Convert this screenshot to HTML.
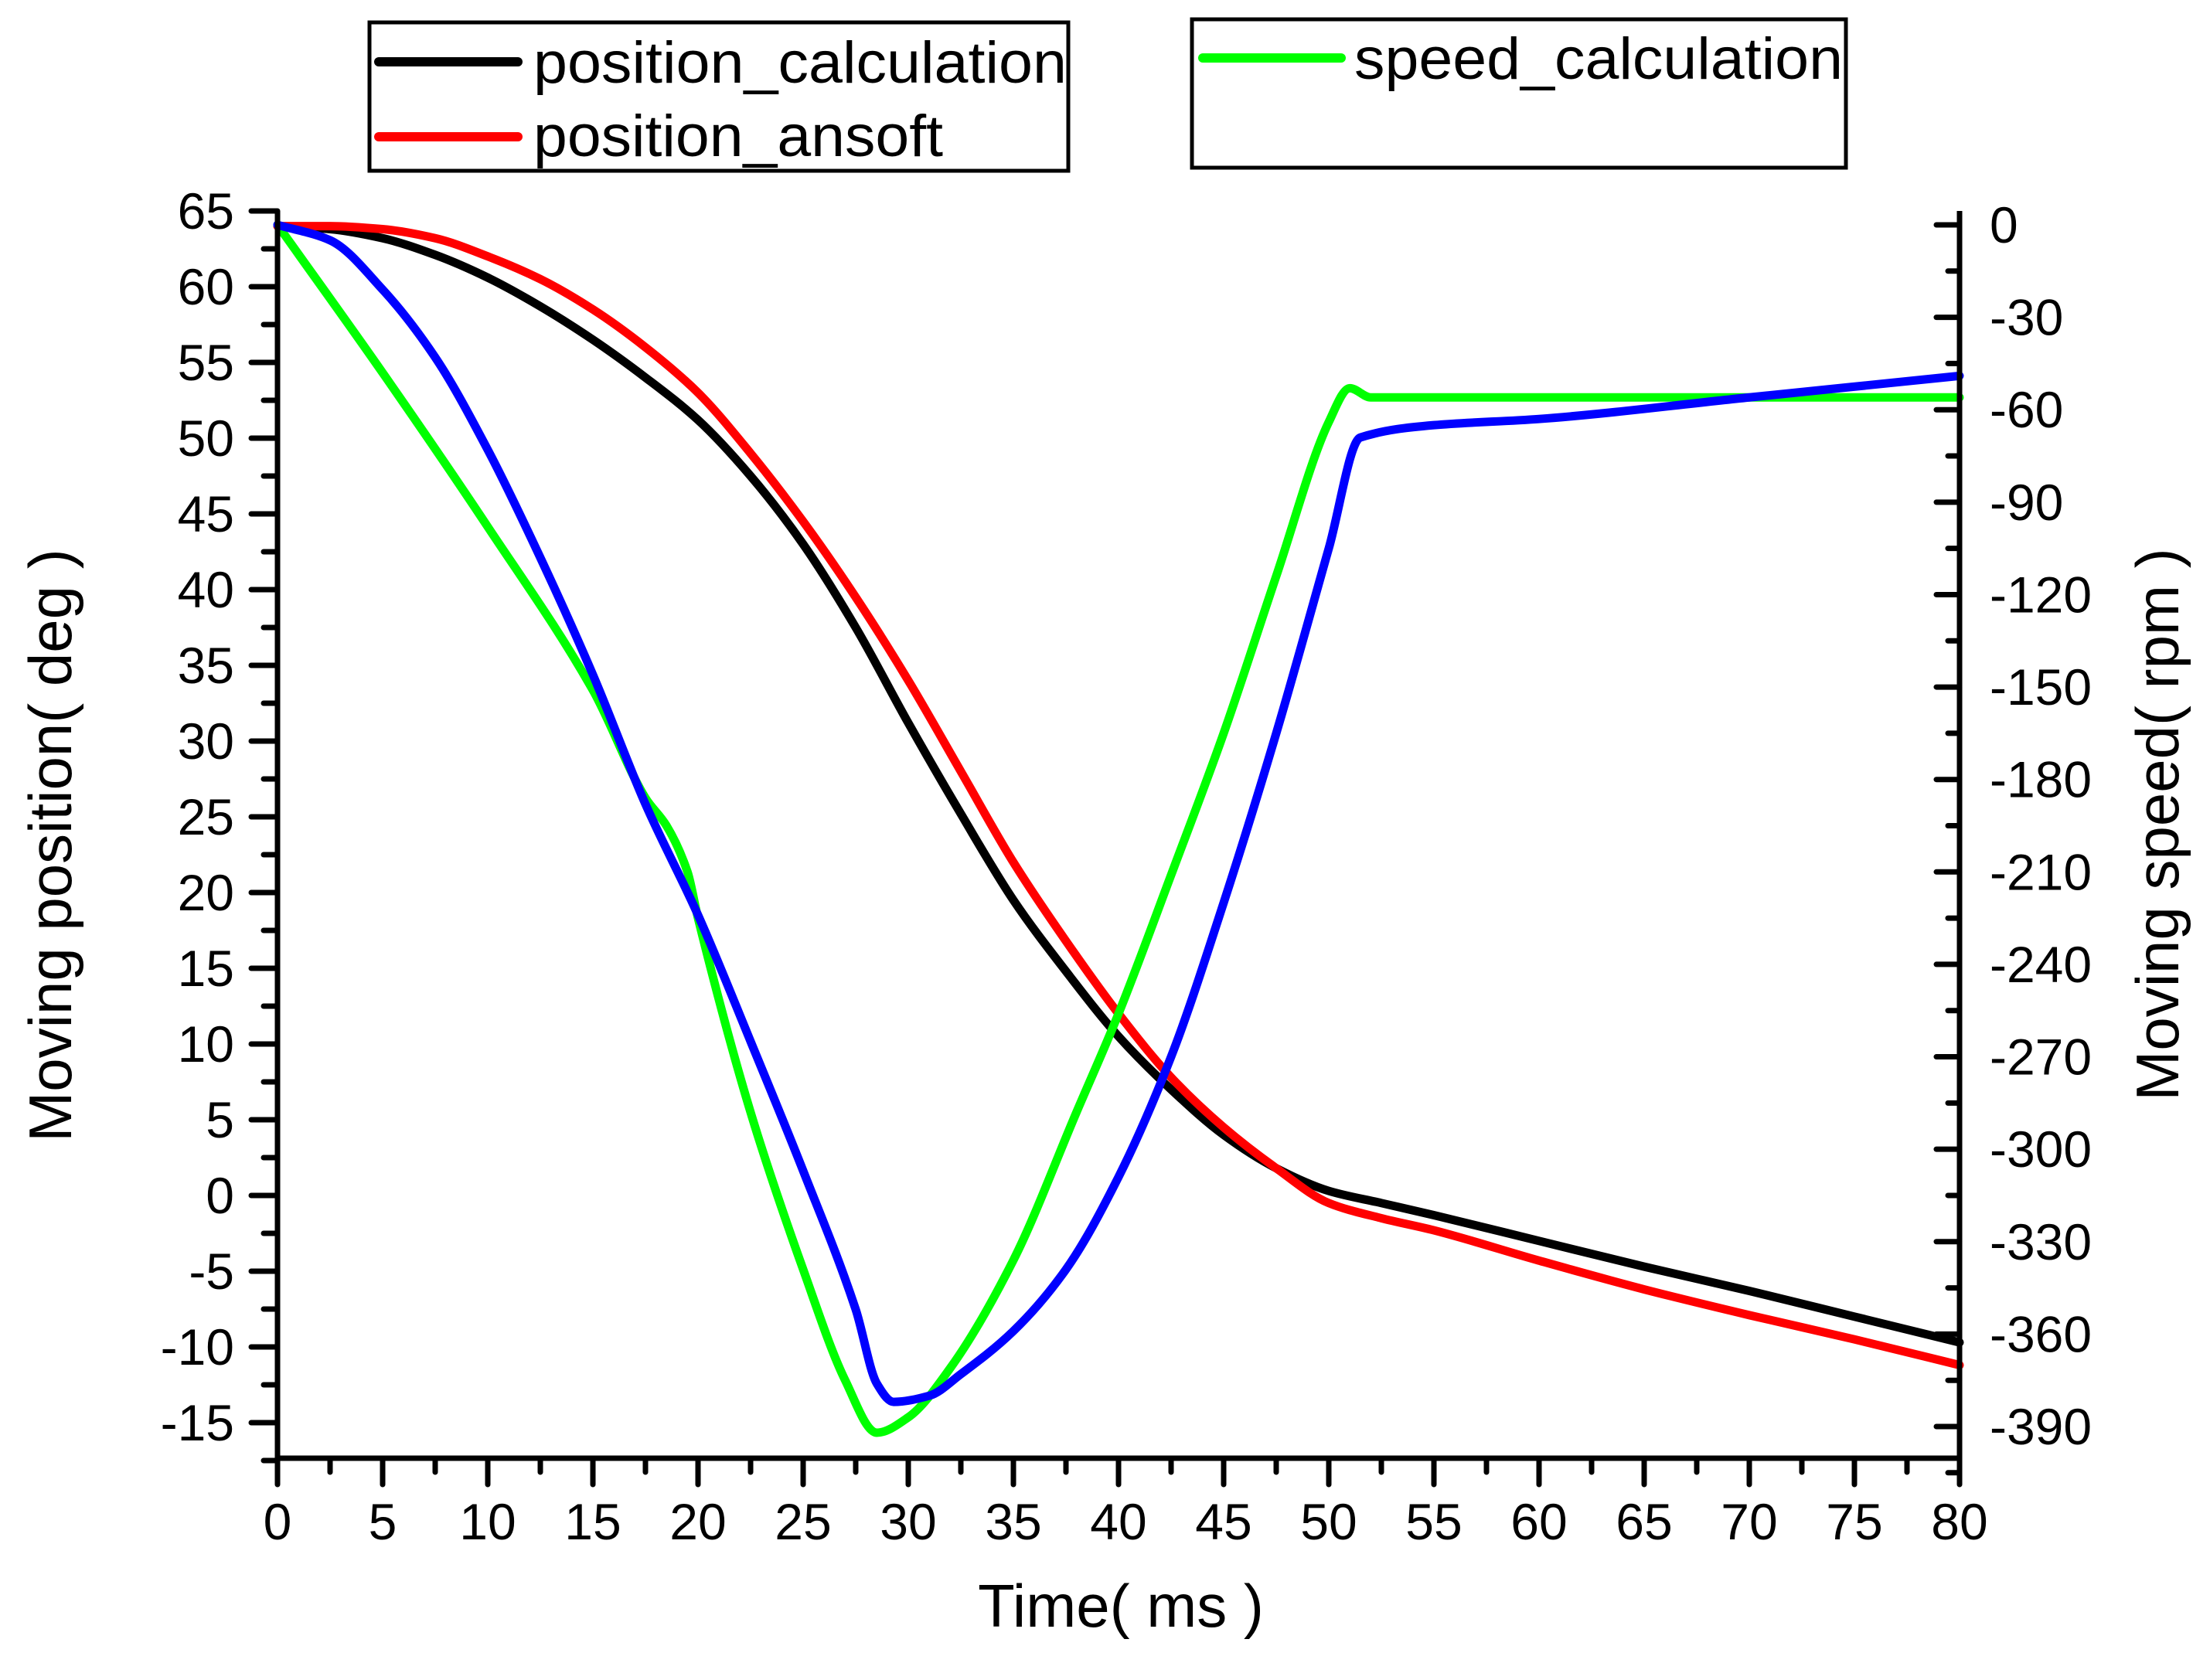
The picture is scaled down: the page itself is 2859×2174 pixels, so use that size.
<!DOCTYPE html>
<html><head><meta charset="utf-8"><style>
html,body{margin:0;padding:0;background:#fff;}
svg{display:block;font-family:"Liberation Sans",Arial,sans-serif;}
</style></head><body>
<svg id="chart" width="2859" height="2174" viewBox="0 0 2859 2174">
<g id="plot"></g>
<g id="axes"></g>
<g>
<rect x="478" y="29" width="904" height="192" fill="#fff" stroke="#000" stroke-width="5"/>
<line x1="490" y1="80" x2="670" y2="80" stroke="#000" stroke-width="12" stroke-linecap="round"/>
<text x="690" y="107" font-size="76" textLength="690" lengthAdjust="spacingAndGlyphs">position_calculation</text>
<line x1="490" y1="177" x2="670" y2="177" stroke="#f00" stroke-width="12" stroke-linecap="round"/>
<text x="690" y="202" font-size="76" textLength="530" lengthAdjust="spacingAndGlyphs">position_ansoft</text>
</g>
<g>
<rect x="1542" y="25" width="846" height="192" fill="#fff" stroke="#000" stroke-width="5"/>
<line x1="1556" y1="75" x2="1735" y2="75" stroke="#0f0" stroke-width="12" stroke-linecap="round"/>
<text x="1752" y="102" font-size="76" textLength="632" lengthAdjust="spacingAndGlyphs">speed_calculation</text>
</g>
<text x="1450" y="2105" font-size="78" text-anchor="middle">Time( ms )</text>
<text transform="translate(92,1094) rotate(-90)" font-size="78" text-anchor="middle">Moving position( deg )</text>
<text transform="translate(2818,1067) rotate(-90)" font-size="78" text-anchor="middle">Moving speed( rpm )</text>
</svg>
<script>
const timeMs = [0,2.5,5,7.5,10,12.5,15,17.5,20,22.5,25,27.5,30,32.5,35,37.5,40,42.5,45,47.5,50,52.5,55,60,65,70,75,80];
const posCalc = [64,63.8,63.2,62.1,60.6,58.7,56.5,54,51.2,47.5,43,37.5,31.2,25.2,19.5,14.8,10.5,7,4,1.8,0.3,-0.5,-1.3,-3,-4.7,-6.3,-8,-9.7];
const posAnsoft = [64,64,63.8,63.2,62,60.5,58.5,56,53,49,44.5,39.5,34,28,22,16.8,12,7.8,4.5,1.8,-0.5,-1.5,-2.3,-4.3,-6.2,-7.9,-9.5,-11.2];
const speedTime = [0,5,10,15,17.5,18.5,19.5,20,22.5,25,27,28.5,30,32,35,38,40,42.5,45,47.5,50,51,52,80];
const speedCalc = [0,-48,-98,-151,-186,-195,-210,-225,-288,-339,-375,-392,-387,-371,-336,-288,-256,-211,-165,-114,-64,-53,-56,-56];
const ansoftTime = [0,2.5,5,7.5,10,12.5,15,17.5,20,22.5,25,27.5,28.5,29.3,31,32.5,35,37.5,40,42.5,45,47.5,50,51.5,55,60,70,80];
const speedAnsoft = [0,-5,-21,-43,-73,-108,-146,-188,-224,-265,-307,-352,-376,-382,-380,-373,-359,-339,-309,-270,-220,-165,-105,-69,-65,-63,-56,-49];
const xTicks = [0,5,10,15,20,25,30,35,40,45,50,55,60,65,70,75,80];
const yLeftTicks = [65,60,55,50,45,40,35,30,25,20,15,10,5,0,-5,-10,-15];
const yRightTicks = [0,-30,-60,-90,-120,-150,-180,-210,-240,-270,-300,-330,-360,-390];

const L=359,R=2535,T=273,B=1887;
const xs=t=>L+(t-0)*(R-L)/80;
const yl=v=>273+(65-v)*19.6;
const yr=v=>291+(0-v)*(1555/390);
const NS='http://www.w3.org/2000/svg';
const plot=document.getElementById('plot'), axes=document.getElementById('axes');
function mk(tag,attrs,parent){const e=document.createElementNS(NS,tag);for(const k in attrs)e.setAttribute(k,attrs[k]);parent.appendChild(e);return e;}
function monotone(pts){
  const n=pts.length,d=[],m=new Array(n);
  for(let i=0;i<n-1;i++)d.push((pts[i+1][1]-pts[i][1])/(pts[i+1][0]-pts[i][0]));
  m[0]=d[0];m[n-1]=d[n-2];
  for(let i=1;i<n-1;i++){ if(d[i-1]*d[i]<=0)m[i]=0; else m[i]=2/(1/d[i-1]+1/d[i]); }
  let s='M'+pts[0][0]+','+pts[0][1];
  for(let i=0;i<n-1;i++){const h=pts[i+1][0]-pts[i][0];
    s+=' C'+(pts[i][0]+h/3)+','+(pts[i][1]+m[i]*h/3)+' '+(pts[i+1][0]-h/3)+','+(pts[i+1][1]-m[i+1]*h/3)+' '+pts[i+1][0]+','+pts[i+1][1];}
  return s;
}
function series(tx,vals,yf,color,name){
  const pts=tx.map((t,i)=>[xs(t),yf(vals[i])]);
  const p=mk('path',{d:monotone(pts),fill:'none',stroke:color,'stroke-width':11,'stroke-linejoin':'round','stroke-linecap':'round'},plot);
  
  
}
series(timeMs,posCalc,yl,'#000','line-position-calculation');
series(timeMs,posAnsoft,yl,'#f00','line-position-ansoft');
series(speedTime,speedCalc,yr,'#0f0','line-speed-calculation');
series(ansoftTime,speedAnsoft,yr,'#00f','line-speed-ansoft');

const sw=7;
mk('line',{x1:L,y1:T,x2:L,y2:B,stroke:'#000','stroke-width':sw},axes);
mk('line',{x1:R,y1:T,x2:R,y2:B,stroke:'#000','stroke-width':sw},axes);
mk('line',{x1:L-3,y1:B,x2:R+3,y2:B,stroke:'#000','stroke-width':sw},axes);
for(let t=0;t<=80;t+=2.5){const maj=t%5===0;mk('line',{x1:xs(t),y1:B,x2:xs(t),y2:B+(maj?34:18),stroke:'#000','stroke-width':sw,'stroke-linecap':'round'},axes);}
xTicks.forEach(t=>{const e=mk('text',{x:xs(t),y:1992,'font-size':66,'text-anchor':'middle'},axes);e.textContent=t;

});
for(let v=65;v>=-17.5;v-=2.5){const maj=v%5===0;mk('line',{x1:L,y1:yl(v),x2:L-(maj?34:18),y2:yl(v),stroke:'#000','stroke-width':sw,'stroke-linecap':'round'},axes);}
yLeftTicks.forEach(v=>{const e=mk('text',{x:303,y:yl(v)+23,'font-size':66,'text-anchor':'end'},axes);e.textContent=v;

});
for(let v=0;v>=-405;v-=15){const maj=v%30===0;mk('line',{x1:R,y1:yr(v),x2:R-(maj?30:15),y2:yr(v),stroke:'#000','stroke-width':sw,'stroke-linecap':'round'},axes);}
yRightTicks.forEach(v=>{const e=mk('text',{x:2574,y:yr(v)+23,'font-size':66,'text-anchor':'start'},axes);e.textContent=v;

});
</script>
</body></html>
